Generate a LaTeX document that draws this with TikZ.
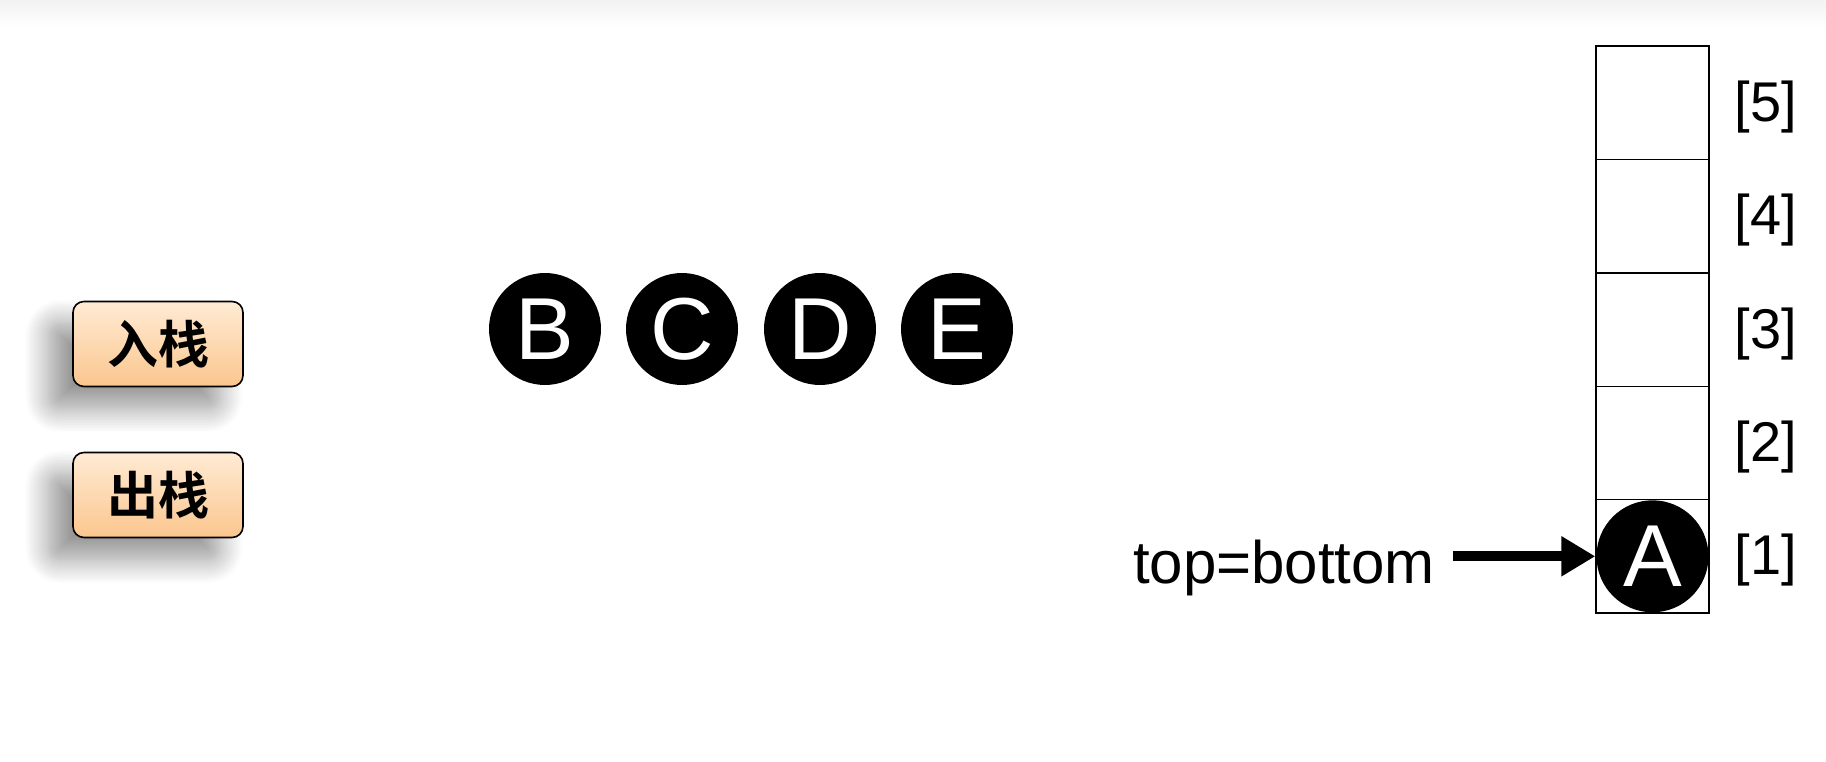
\documentclass[tikz,border=0pt]{standalone}
\usepackage{fontspec}
\setmainfont{Liberation Sans}
\newfontfamily\cjk{Noto Sans CJK SC}[BoldFont={* Bold}]
\usetikzlibrary{arrows.meta,shadows.blur}
\definecolor{btntop}{HTML}{FFEBD4}
\definecolor{btnbot}{HTML}{FBC68E}
\definecolor{bandgray}{HTML}{F2F2F2}
\tikzset{
  btn/.style={rectangle, rounded corners=11pt, draw=black, line width=1.6pt,
    top color=btntop, bottom color=btnbot, minimum width=170pt, minimum height=85pt,
    inner sep=0pt, font=\cjk\bfseries\fontsize{51}{51}\selectfont,
    blur shadow={shadow xshift=-24pt, shadow yshift=-22pt, shadow blur radius=24pt, shadow opacity=42, shadow blur steps=16}},
  ball/.style={circle, fill=black, minimum size=112pt, inner sep=0pt, text=white,
    font=\fontsize{88}{88}\selectfont},
  cell/.style={rectangle, draw=black, line width=1.4pt, minimum width=113pt, minimum height=113.4pt, inner sep=0pt},
  idx/.style={font=\fontsize{56}{56}\selectfont, inner sep=0pt},
  lbl/.style={font=\fontsize{60}{60}\selectfont, inner sep=0pt},
}
\begin{document}
\begin{tikzpicture}[x=1pt,y=-1pt]
\useasboundingbox (0,0) rectangle (1826,762);
\shade[top color=bandgray, bottom color=white] (0,0) rectangle (1826,26);
% buttons
\node[btn] (push) at (158,344) {入栈};
\node[btn] (pop) at (158,495) {出栈};
% waiting elements
\node[ball] (B) at (545,329) {B};
\node[ball] (C) at (682,329) {C};
\node[ball] (D) at (820,329) {D};
\node[ball] (E) at (957,329) {E};
% stack cells
\node[cell] (cell5) at (1652.5,102.7) {};
\node[cell] (cell4) at (1652.5,216.1) {};
\node[cell] (cell3) at (1652.5,329.5) {};
\node[cell] (cell2) at (1652.5,442.9) {};
\node[cell] (cell1) at (1652.5,556.3) {};
\node[ball] (A) at (cell1) {A};
% indices
\node[idx] (i5) at (1766,107) {[5]};
\node[idx] (i4) at (1766,220) {[4]};
\node[idx] (i3) at (1766,334) {[3]};
\node[idx] (i2) at (1766,447) {[2]};
\node[idx] (i1) at (1766,560) {[1]};
% pointer
\node[lbl] (tb) at (1284,568) {top=bottom};
\draw[line width=10pt, -{Triangle[length=34pt,width=38pt]}] ([xshift=18pt]cell1.west -| tb.east) -- (cell1.west);
\end{tikzpicture}
\end{document}
